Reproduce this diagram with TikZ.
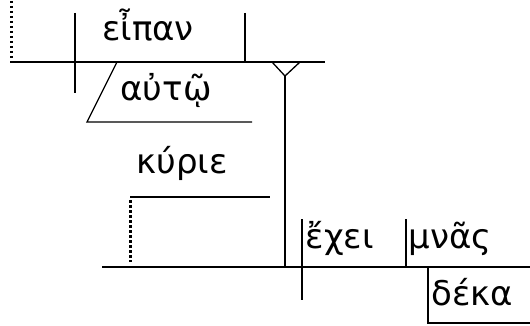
\documentclass[tikz,border=0pt]{standalone}
\usepackage{fontspec}
\setmainfont{DejaVu Sans}

\begin{document}
\begin{tikzpicture}[x=1pt, y=-1pt, line width=1.3pt,
    word/.style={anchor=base, inner sep=0pt, font=\fontsize{34}{40}\selectfont},
    dots/.style={dash pattern=on 2.5pt off 2.5pt, line width=3pt}]
    % Rahmen: 530 x 326
    \useasboundingbox (0,0) rectangle (530,326);

    % oberer Satz: εἶπαν αὐτῷ
    \draw (10,62) -- (325,62);
    \draw (75,13) -- (75,93);
    \draw (245,13) -- (245,62);
    \draw[dots] (11,1) -- (11,58);
    \node[word] (eipan) at (148,41) {εἶπαν};
    \draw (117,62) -- (87,122) -- (252,122);
    \node[word] (auto) at (166,101) {αὐτῷ};

    % Gabel und Verbindung nach unten
    \coordinate (fork) at (285,76);
    \draw (272,62) -- (fork) -- (300,62);
    \draw (fork) -- (285,267);

    % Anrede: κύριε
    \node[word] (kyrie) at (182,173) {κύριε};
    \draw (130,197) -- (270,197);
    \draw[dots] (130,200) -- (130,262);

    % unterer Satz: ἔχει μνᾶς δέκα
    \draw (102,267) -- (530,267);
    \draw (302,219) -- (302,300);
    \draw (406,219) -- (406,267);
    \node[word, anchor=base west] (echei) at (305,248) {ἔχει};
    \node[word, anchor=base west] (mnas) at (408,248) {μνᾶς};
    \draw (428,267) -- (428,323) -- (530,323);
    \node[word, anchor=base west] (deka) at (431,305) {δέκα};
\end{tikzpicture}
\end{document}
